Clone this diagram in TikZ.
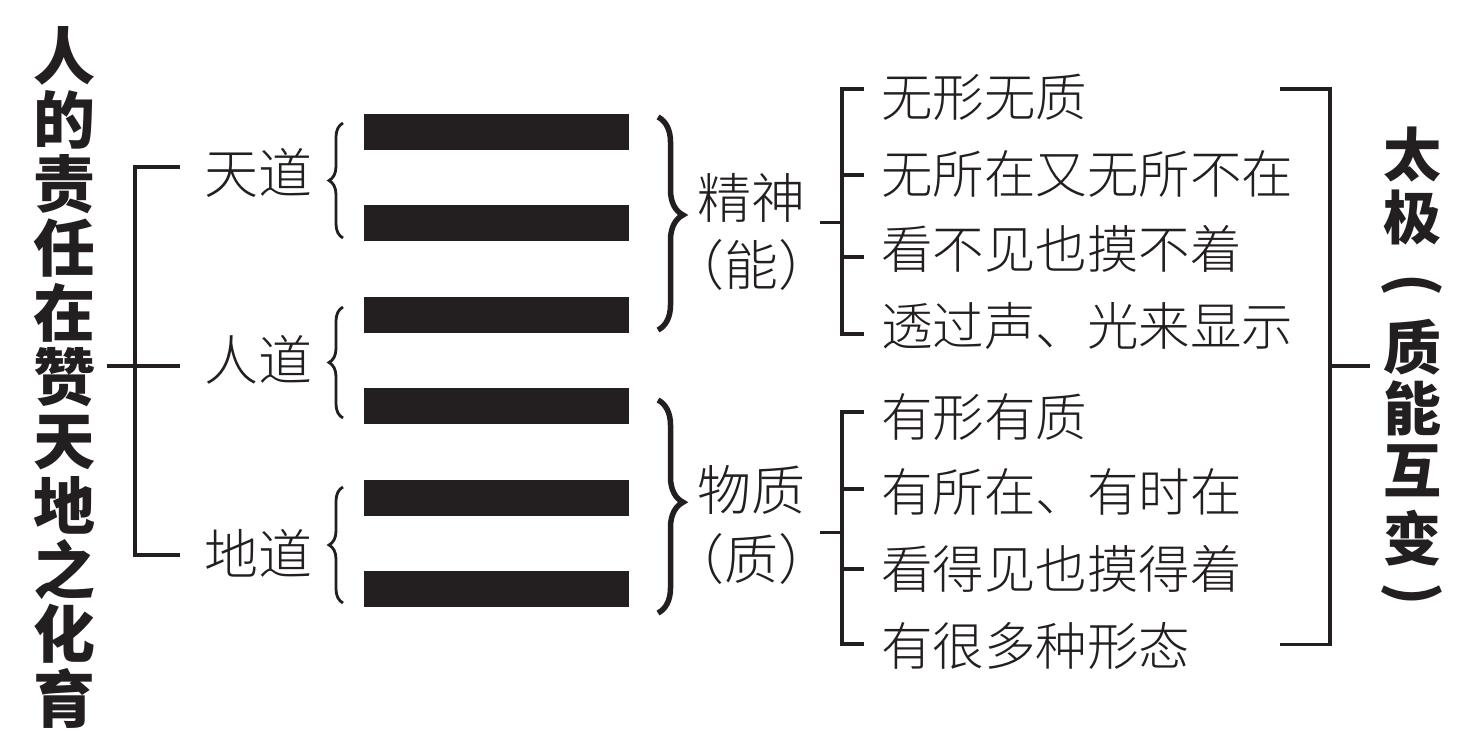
\documentclass[tikz,border=0pt]{standalone}
\usepackage{fontspec}
\setmainfont{Noto Sans CJK SC}
\IfFontExistsTF{Noto Sans CJK SC Light}
  {\newfontfamily\litefont{Noto Sans CJK SC Light}}
  {\newfontfamily\litefont{Noto Sans CJK SC}}
\usetikzlibrary{decorations.pathreplacing,calc}
\definecolor{ink}{RGB}{35,31,32}
\begin{document}
\begin{tikzpicture}[x=1pt,y=-1pt,
  vtext/.style={font=\fontsize{62}{64.3}\selectfont\bfseries, align=center, inner sep=0, text=ink},
  vch/.style={font=\fontsize{58}{60}\selectfont\bfseries, inner sep=0, text=ink},
  item/.style={font=\litefont\fontsize{51.5}{60}\selectfont, inner sep=0, anchor=west, text=ink},
  dao/.style={font=\litefont\fontsize{54}{60}\selectfont, inner sep=0, anchor=west, text=ink},
  mid/.style={font=\litefont\fontsize{54}{60}\selectfont, inner sep=0, text=ink},
  yao/.style={fill=ink, draw=none, minimum width=265, minimum height=36, inner sep=0},
  brk/.style={draw=ink, line width=3.2, line cap=butt, line join=miter},
  sbrace/.style={draw=ink, line width=2.8, decorate, decoration={brace, amplitude=14, aspect=0.5}},
  bbrace/.style={draw=ink, line width=5.5, decorate, decoration={brace, amplitude=25, aspect=#1}}
]
\useasboundingbox (0,0) rectangle (1466,753);
\fill[white] (0,0) rectangle (1466,753);

% left vertical title
\node[vtext] (L) at (64,377) {人\\的\\责\\任\\在\\赞\\天\\地\\之\\化\\育};

% three ways
\node[dao] (tian) at (204,173) {天道};
\node[dao] (ren) at (204,360) {人道};
\node[dao] (di) at (204,553) {地道};

% left bracket
\coordinate (ls0) at (107,366);
\coordinate (ls1) at (180,366);
\coordinate (lt0) at (180,167);
\coordinate (lt1) at (135,167);
\coordinate (lb1) at (135,555);
\coordinate (lb0) at (180,555);
\draw[brk] (ls0) -- (ls1);
\draw[brk] (lt0) -- (lt1) -- (lb1) -- (lb0);

% six lines (hexagram)
\foreach \i in {1,...,6} {
  \node[yao] (b\i) at (496.5,{132+91.4*(\i-1)}) {};
}

% small braces
\coordinate (sb1a) at (343,238); \coordinate (sb1b) at (343,123);
\coordinate (sb2a) at (343,418); \coordinate (sb2b) at (343,307);
\coordinate (sb3a) at (343,603); \coordinate (sb3b) at (343,487);
\draw[sbrace] (sb1a) -- (sb1b);
\draw[sbrace] (sb2a) -- (sb2b);
\draw[sbrace] (sb3a) -- (sb3b);

% big braces
\coordinate (bb1a) at (658,117); \coordinate (bb1b) at (658,330);
\coordinate (bb2a) at (658,400); \coordinate (bb2b) at (658,613);
\draw[bbrace=0.46] (bb1a) -- (bb1b);
\draw[bbrace=0.48] (bb2a) -- (bb2b);

% spirit / matter
\node[mid] (jing) at (751.5,198) {精神};
\node[mid] (neng) at (751.5,265) {（能）};
\node[mid] (wu) at (751.5,490) {物质};
\node[mid] (zhi) at (751.5,559) {（质）};

% upper list bracket
\coordinate (us0) at (820,222.6); \coordinate (us1) at (842,222.6);
\draw[brk] (us0) -- (us1);
\draw[brk] (864,89) -- (842,89) -- (842,334) -- (864,334);
\draw[brk] (842,175) -- (864,175);
\draw[brk] (842,257) -- (864,257);

% lower list bracket
\coordinate (ds0) at (820,532.6); \coordinate (ds1) at (842,532.6);
\draw[brk] (ds0) -- (ds1);
\draw[brk] (864,412) -- (842,412) -- (842,644) -- (864,644);
\draw[brk] (842,489) -- (864,489);
\draw[brk] (842,569) -- (864,569);

% list items
\node[item] (i1) at (881,97) {无形无质};
\node[item] (i2) at (881,174) {无所在又无所不在};
\node[item] (i3) at (881,249) {看不见也摸不着};
\node[item] (i4) at (881,326) {透过声、光来显示};
\node[item] (i5) at (881,417) {有形有质};
\node[item] (i6) at (881,492) {有所在、有时在};
\node[item] (i7) at (881,569) {看得见也摸得着};
\node[item] (i8) at (881,646) {有很多种形态};

% right bracket
\coordinate (rt0) at (1280,89); \coordinate (rt1) at (1330,89);
\coordinate (rb1) at (1330,644.6); \coordinate (rb0) at (1280,644.6);
\coordinate (rs0) at (1330,366); \coordinate (rs1) at (1370,366);
\draw[brk] (rt0) -- (rt1) -- (rb1) -- (rb0);
\draw[brk] (rs0) -- (rs1);

% right vertical title
\node[vch] (r1) at (1412,155) {太};
\node[vch] (r2) at (1412,217) {极};
\node[vch, rotate=-90] (r3) at (1412,285) {(};
\node[vch] (r4) at (1412,347) {质};
\node[vch] (r5) at (1412,408) {能};
\node[vch] (r6) at (1412,471) {互};
\node[vch] (r7) at (1412,538) {变};
\node[vch, rotate=-90] (r8) at (1412,594) {)};
\end{tikzpicture}
\end{document}
